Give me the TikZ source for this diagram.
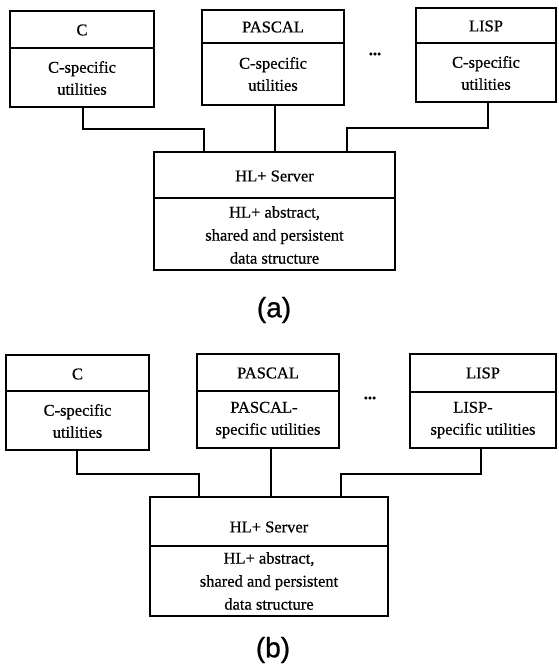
\documentclass[tikz,border=0pt]{standalone}
\usepackage{fontspec}
\setmainfont{Liberation Serif}[FakeBold=0.6]
\newfontfamily\capfont{Liberation Sans}[FakeBold=0.8]
\begin{document}
\begin{tikzpicture}[x=1pt,y=-1pt,
  box/.style={draw, line width=2.6pt, rectangle, inner sep=0pt},
  divline/.style={line width=1.3pt},
  conn/.style={line width=1.5pt},
  txt/.style={font=\fontsize{16.5}{22}\selectfont, align=center, inner sep=0pt},
  capt/.style={font=\capfont\fontsize{28}{30}\selectfont, inner sep=0pt}]
\useasboundingbox (0,0) rectangle (558,668);

% ---------------- (a) ----------------
\node[box, minimum width=144, minimum height=96] (ca) at (82,59) {};
\node[box, minimum width=142, minimum height=95] (pa) at (273,57.5) {};
\node[box, minimum width=140, minimum height=94] (la) at (486,55) {};
\node[box, minimum width=241, minimum height=118] (sa) at (274.5,211) {};

\draw[divline] (ca.west |- 0,48) -- (ca.east |- 0,48);
\draw[divline] (pa.west |- 0,43) -- (pa.east |- 0,43);
\draw[divline] (la.west |- 0,43) -- (la.east |- 0,43);
\draw[divline] (sa.west |- 0,198) -- (sa.east |- 0,198);

\node[txt] (cah) at (82,30) {C};
\node[txt] (cab) at (82,78) {C-specific\\utilities};
\node[txt] (pah) at (273,27) {PASCAL};
\node[txt] (pab) at (273,74) {C-specific\\utilities};
\node[txt] (lah) at (486,26) {LISP};
\node[txt] (lab) at (486,73) {C-specific\\utilities};
\node[txt] (dota) at (375,54) {\textbf{...}};
\node[txt] (sah) at (274.5,176) {HL+ Server};
\node[txt, font=\fontsize{16.5}{23}\selectfont] (sab) at (274.5,235) {HL+ abstract,\\shared and persistent\\data structure};
\node[capt] (capa) at (274,310) {(a)};

\coordinate (sa1) at (204,152);
\coordinate (sa3) at (347,152);
\coordinate (ca0) at (83,107);
\coordinate (la0) at (488,102);
\draw[conn] (ca0) -- ++(0,22) -| (sa1);
\draw[conn] (pa.south -| 275,0) -- (sa.north -| 275,0);
\draw[conn] (la0) -- ++(0,26) -| (sa3);

% ---------------- (b) ----------------
\node[box, minimum width=143, minimum height=95] (cb) at (77.5,402.5) {};
\node[box, minimum width=142, minimum height=94] (pb) at (268,401) {};
\node[box, minimum width=146, minimum height=94] (lb) at (483,401) {};
\node[box, minimum width=238, minimum height=119] (sb) at (269,556.5) {};

\draw[divline] (cb.west |- 0,391) -- (cb.east |- 0,391);
\draw[divline] (pb.west |- 0,391) -- (pb.east |- 0,391);
\draw[divline] (lb.west |- 0,392) -- (lb.east |- 0,392);
\draw[divline] (sb.west |- 0,546) -- (sb.east |- 0,546);

\node[txt] (cbh) at (77.5,374) {C};
\node[txt] (cbb) at (77.5,421) {C-specific\\utilities};
\node[txt] (pbh) at (268,373) {PASCAL};
\node[txt] (pbb) at (268,420) {PASCAL-\hspace*{8pt}\\specific utilities};
\node[txt] (lbh) at (483,373) {LISP};
\node[txt] (lbb) at (483,420) {LISP-\hspace*{20pt}\\specific utilities};
\node[txt] (dotb) at (370,398) {\textbf{...}};
\node[txt] (sbh) at (269,527) {HL+ Server};
\node[txt, font=\fontsize{16.5}{23}\selectfont] (sbb) at (269,581) {HL+ abstract,\\shared and persistent\\data structure};
\node[capt] (capb) at (273,650) {(b)};

\coordinate (sb1) at (199,497);
\coordinate (sb3) at (341,497);
\coordinate (cb0) at (77,450);
\coordinate (lb0) at (481,448);
\draw[conn] (cb0) -- ++(0,24) -| (sb1);
\draw[conn] (pb.south -| 271,0) -- (sb.north -| 271,0);
\draw[conn] (lb0) -- ++(0,26) -| (sb3);
\end{tikzpicture}
\end{document}
